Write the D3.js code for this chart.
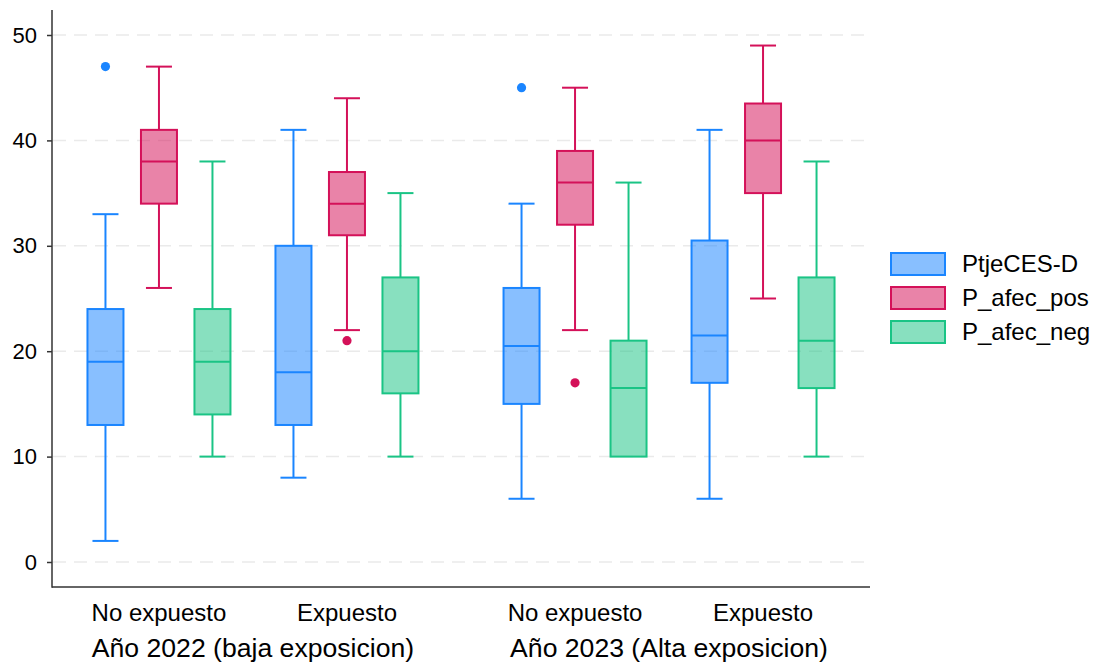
<!DOCTYPE html>
<html>
<head>
<meta charset="utf-8">
<script src="https://cdn.jsdelivr.net/npm/d3@7"></script>
<style>
  html, body { margin: 0; padding: 0; background: #fff; }
  svg { display: block; font-family: "Liberation Sans", Arial, sans-serif; }
</style>
</head>
<body>
<div id="chart"></div>
<script>
// categories
const years = ["Año 2022 (baja exposicion)", "Año 2023 (Alta exposicion)"];
const exposure = ["No expuesto", "Expuesto"];
const seriesNames = ["PtjeCES-D", "P_afec_pos", "P_afec_neg"];
const seriesColors = ["#1a85ff", "#d41159", "#1ac485"];

// box stats per group (2022 No exp, 2022 Exp, 2023 No exp, 2023 Exp): [min, q1, median, q3, max]
const ptjeStats = [[2, 13, 19, 24, 33], [8, 13, 18, 30, 41], [6, 15, 20.5, 26, 34], [6, 17, 21.5, 30.5, 41]];
const posStats  = [[26, 34, 38, 41, 47], [22, 31, 34, 37, 44], [22, 32, 36, 39, 45], [25, 35, 40, 43.5, 49]];
const negStats  = [[10, 14, 19, 24, 38], [10, 16, 20, 27, 35], [10, 10, 16.5, 21, 36], [10, 16.5, 21, 27, 38]];

// outliers
const ptjeOutliers = [[47], [], [45], []];
const posOutliers  = [[], [21], [17], []];
const negOutliers  = [[], [], [], []];

const yTicks = [0, 10, 20, 30, 40, 50];

const allStats = [ptjeStats, posStats, negStats];
const allOutliers = [ptjeOutliers, posOutliers, negOutliers];

const width = 1095, height = 664;
const plotLeft = 52, plotRight = 870, plotTop = 10, plotBottom = 587;

const svg = d3.select('#chart').append('svg')
  .attr('width', width)
  .attr('height', height)
  .attr('viewBox', [0, 0, width, height]);

// scales
const y = d3.scaleLinear().domain([0, 50]).range([562, 35]);
const x0 = d3.scalePoint().domain(years).range([plotLeft, plotRight]).padding(0.483);
const x1 = d3.scalePoint().domain(exposure).range([-94, 94]);
const x2 = d3.scalePoint().domain(seriesNames).range([-53.5, 53.5]);
const boxW = 38, capW = 26;

// grid
svg.append('g')
  .selectAll('line')
  .data(yTicks)
  .join('line')
  .attr('x1', plotLeft + 1).attr('x2', plotRight)
  .attr('y1', d => y(d)).attr('y2', d => y(d))
  .attr('stroke', '#eaeaea')
  .attr('stroke-width', 1.5)
  .attr('stroke-dasharray', '13 8');

// y axis
const yAxis = svg.append('g')
  .attr('transform', `translate(${plotLeft},0)`)
  .call(d3.axisLeft(y).tickValues(yTicks).tickSize(5).tickPadding(10).tickSizeOuter(0));
yAxis.select('.domain').remove();
yAxis.selectAll('.tick line').attr('stroke', '#333').attr('stroke-width', 1.5);
yAxis.selectAll('.tick text').attr('fill', '#000').attr('font-size', 22).attr('font-family', '"Liberation Sans", Arial, sans-serif');

svg.append('line')
  .attr('x1', plotLeft).attr('x2', plotLeft)
  .attr('y1', plotTop).attr('y2', plotBottom + 0.75)
  .attr('stroke', '#333').attr('stroke-width', 1.5);
svg.append('line')
  .attr('x1', plotLeft).attr('x2', plotRight)
  .attr('y1', plotBottom).attr('y2', plotBottom)
  .attr('stroke', '#333').attr('stroke-width', 1.5);

// flatten groups
const groups = [];
years.forEach(yr => exposure.forEach(ex => groups.push({ yr, ex })));

// x labels
groups.forEach(g => {
  svg.append('text')
    .attr('x', x0(g.yr) + x1(g.ex))
    .attr('y', 621)
    .attr('text-anchor', 'middle')
    .attr('font-size', 24)
    .attr('fill', '#000')
    .text(g.ex);
});
years.forEach(yr => {
  svg.append('text')
    .attr('x', x0(yr))
    .attr('y', 657)
    .attr('text-anchor', 'middle')
    .attr('font-size', 26.6)
    .attr('fill', '#000')
    .text(yr);
});

// boxes
const boxes = svg.append('g');
seriesNames.forEach((s, si) => {
  const color = seriesColors[si];
  groups.forEach((g, gi) => {
    const [mn, q1, med, q3, mx] = allStats[si][gi];
    const cx = x0(g.yr) + x1(g.ex) + x2(s);
    const b = boxes.append('g');
    // whiskers
    b.append('line').attr('x1', cx).attr('x2', cx).attr('y1', y(q3)).attr('y2', y(mx))
      .attr('stroke', color).attr('stroke-width', 2);
    b.append('line').attr('x1', cx).attr('x2', cx).attr('y1', y(q1)).attr('y2', y(mn))
      .attr('stroke', color).attr('stroke-width', 2);
    if (mx > q3) b.append('line').attr('x1', cx - capW / 2).attr('x2', cx + capW / 2).attr('y1', y(mx)).attr('y2', y(mx))
      .attr('stroke', color).attr('stroke-width', 2);
    if (mn < q1) b.append('line').attr('x1', cx - capW / 2).attr('x2', cx + capW / 2).attr('y1', y(mn)).attr('y2', y(mn))
      .attr('stroke', color).attr('stroke-width', 2);
    // box
    b.append('rect')
      .attr('x', cx - boxW / 2 + 1).attr('width', boxW - 2)
      .attr('y', y(q3)).attr('height', y(q1) - y(q3))
      .attr('fill', color).attr('fill-opacity', 0.52)
      .attr('stroke', color).attr('stroke-width', 2);
    b.append('line').attr('x1', cx - boxW / 2 + 1).attr('x2', cx + boxW / 2 - 1).attr('y1', y(med)).attr('y2', y(med))
      .attr('stroke', color).attr('stroke-width', 2);
    // outliers
    b.selectAll('circle')
      .data(allOutliers[si][gi])
      .join('circle')
      .attr('cx', cx).attr('cy', d => y(d)).attr('r', 4.6)
      .attr('fill', color);
  });
});

// legend
const legend = svg.append('g').attr('transform', 'translate(891,253)');
seriesNames.forEach((s, i) => {
  const item = legend.append('g').attr('transform', `translate(0,${i * 34})`);
  item.append('rect')
    .attr('x', 0).attr('y', 0).attr('width', 54).attr('height', 22)
    .attr('fill', seriesColors[i]).attr('fill-opacity', 0.52)
    .attr('stroke', seriesColors[i]).attr('stroke-width', 2);
  item.append('text')
    .attr('x', 71).attr('y', 11)
    .attr('dy', '0.35em')
    .attr('font-size', 24)
    .attr('fill', '#000')
    .text(s);
});
</script>
</body>
</html>
